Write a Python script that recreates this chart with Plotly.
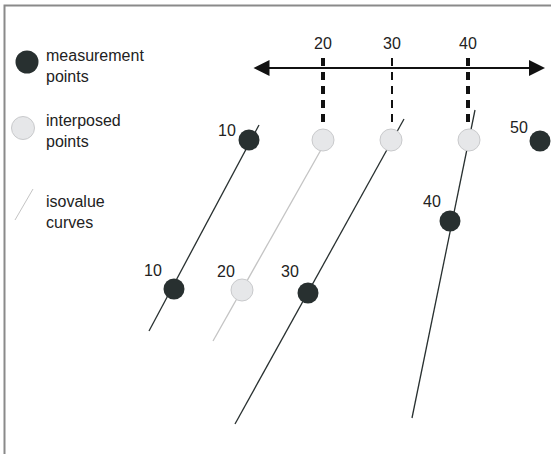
import plotly.graph_objects as go

W, H = 551, 454
DARK = "#283030"
LIGHT_FILL = "#e6e7e9"
LIGHT_EDGE = "#c9cacc"
TEXT = "#222222"
FONT = "Liberation Sans, Arial, sans-serif"

# isovalue curves (endpoints, in diagram units)
curve_x0 = [149, 213, 235, 412]
curve_y0 = [331, 341, 424, 418]
curve_x1 = [259, 322, 404, 475]
curve_y1 = [125, 148, 119, 110]
curve_dark = [True, False, True, True]

# measurement points
meas_x = [249, 540, 174, 308, 450]
meas_y = [140, 141, 289, 293, 221]
meas_lab = ["10", "50", "10", "30", "40"]
meas_lab_x = [227, 519, 153, 290, 432]
meas_lab_y = [130, 127, 270, 271, 201]

# interposed points
interp_x = [323, 391, 469, 242]
interp_y = [140, 140, 140, 290]
interp_lab = ["", "", "", "20"]
interp_lab_x = [None, None, None, 226]
interp_lab_y = [None, None, None, 271]

# scale axis with ticks
scale_x = [323, 392, 468]
scale_lab = ["20", "30", "40"]
scale_thick = [True, False, True]
scale_y_top, scale_y_bot = 58, 123
axis_y = 68
axis_x0, axis_x1 = 252, 545

fig = go.Figure()

# frame (top and left edges)
fig.add_trace(go.Scatter(x=[W + 5, 4.5, 4.5], y=[5.5, 5.5, H + 5], mode="lines",
                         line=dict(color="#8a8a8a", width=2),
                         hoverinfo="skip", showlegend=False))

# curves
for x0, y0, x1, y1, d in zip(curve_x0, curve_y0, curve_x1, curve_y1, curve_dark):
    fig.add_trace(go.Scatter(x=[x0, x1], y=[y0, y1], mode="lines",
                             line=dict(color=DARK if d else "#c4c4c4", width=1.3),
                             hoverinfo="skip", showlegend=False))

# dashed ticks
for sx, th in zip(scale_x, scale_thick):
    fig.add_trace(go.Scatter(x=[sx, sx], y=[scale_y_top, scale_y_bot], mode="lines",
                             line=dict(color="#111111", width=4 if th else 2, dash="8px,6px"),
                             hoverinfo="skip", showlegend=False))

# points
fig.add_trace(go.Scatter(x=interp_x, y=interp_y, mode="markers",
                         marker=dict(size=22, color=LIGHT_FILL, line=dict(color=LIGHT_EDGE, width=1)),
                         hoverinfo="skip", showlegend=False))
fig.add_trace(go.Scatter(x=meas_x, y=meas_y, mode="markers",
                         marker=dict(size=21, color=DARK, line=dict(width=0)),
                         hoverinfo="skip", showlegend=False))

# legend symbols
fig.add_trace(go.Scatter(x=[27], y=[62], mode="markers",
                         marker=dict(size=23, color=DARK, line=dict(width=0)),
                         hoverinfo="skip", showlegend=False))
fig.add_trace(go.Scatter(x=[23], y=[128], mode="markers",
                         marker=dict(size=23, color=LIGHT_FILL, line=dict(color=LIGHT_EDGE, width=1)),
                         hoverinfo="skip", showlegend=False))
fig.add_trace(go.Scatter(x=[15, 33], y=[220, 189], mode="lines",
                         line=dict(color="#c4c4c4", width=1),
                         hoverinfo="skip", showlegend=False))

ann = []
def txt(x, y, s, anchor="center"):
    ann.append(dict(x=x, y=y, text=s, showarrow=False, xanchor=anchor, yanchor="middle",
                    align="left", font=dict(family=FONT, size=16, color=TEXT)))

for x, y, s in zip(meas_lab_x, meas_lab_y, meas_lab):
    txt(x, y, s)
for x, y, s in zip(interp_lab_x, interp_lab_y, interp_lab):
    if s:
        txt(x, y, s)
for x, s in zip(scale_x, scale_lab):
    txt(x, 43, s)

txt(44, 66, "measurement<br>points", "left")
txt(44, 131, "interposed<br>points", "left")
txt(44, 212, "isovalue<br>curves", "left")

# double-headed arrow
ann.append(dict(x=axis_x1, y=axis_y, ax=axis_x0, ay=axis_y, xref="x", yref="y",
                axref="x", ayref="y", text="", showarrow=True, arrowhead=2,
                arrowside="end+start", arrowsize=1.6, arrowwidth=2, arrowcolor="#111111"))

fig.update_layout(
    width=W, height=H, margin=dict(l=0, r=0, t=0, b=0),
    paper_bgcolor="white", plot_bgcolor="white",
    xaxis=dict(range=[0, W], visible=False, fixedrange=True),
    yaxis=dict(range=[H, 0], visible=False, fixedrange=True),
    annotations=ann,
)

fig.write_html("out.html", config={"displayModeBar": False},
               post_script="document.body.style.margin='0';")
